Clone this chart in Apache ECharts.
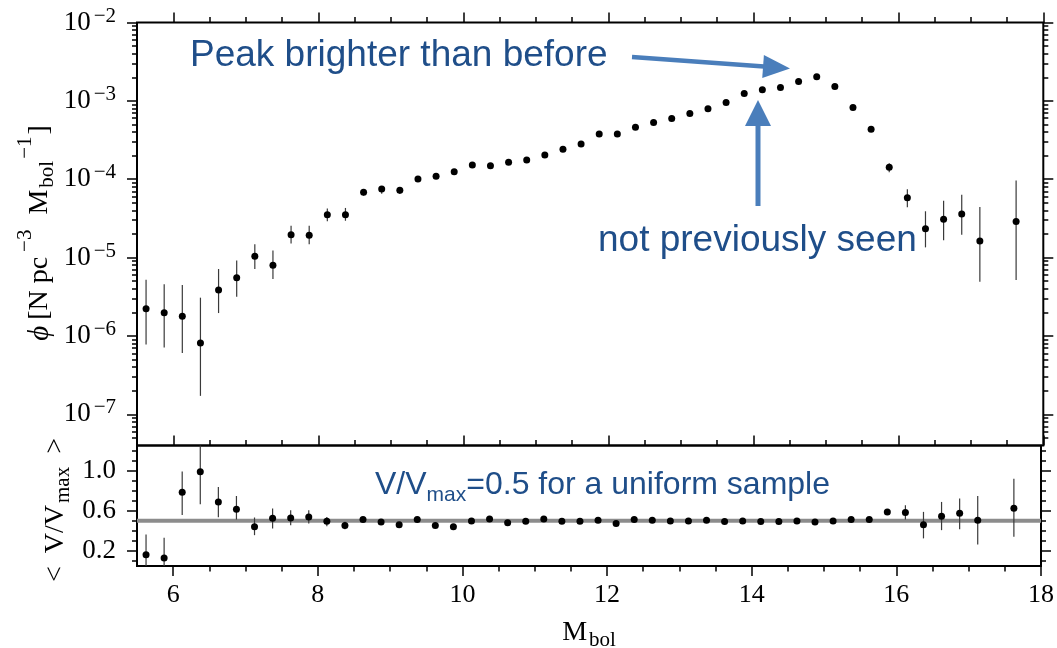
<!DOCTYPE html>
<html><head><meta charset="utf-8">
<script src="https://cdn.jsdelivr.net/npm/echarts@6/dist/echarts.min.js"></script>
<style>html,body{margin:0;padding:0;background:#fff}#c{width:1057px;height:648px}</style>
</head><body><div id="c"></div>
<script>
// ---- data ----
const mbol = [5.625, 5.875, 6.125, 6.375, 6.625, 6.875, 7.125, 7.375, 7.625, 7.875, 8.125, 8.375, 8.625, 8.875, 9.125, 9.375, 9.625, 9.875, 10.125, 10.375, 10.625, 10.875, 11.125, 11.375, 11.625, 11.875, 12.125, 12.375, 12.625, 12.875, 13.125, 13.375, 13.625, 13.875, 14.125, 14.375, 14.625, 14.875, 15.125, 15.375, 15.625, 15.875, 16.125, 16.375, 16.625, 16.875, 17.125, 17.625];
const phi = [2.22e-6, 1.98e-6, 1.79e-6, 8.1e-7, 3.86e-6, 5.54e-6, 1.04e-5, 8.0e-6, 1.96e-5, 1.93e-5, 3.53e-5, 3.53e-5, 6.82e-5, 7.52e-5, 7.23e-5, 1.01e-4, 1.09e-4, 1.25e-4, 1.52e-4, 1.49e-4, 1.65e-4, 1.76e-4, 2.04e-4, 2.41e-4, 2.82e-4, 3.79e-4, 3.79e-4, 4.61e-4, 5.28e-4, 5.94e-4, 6.89e-4, 7.91e-4, 9.52e-4, 1.24e-3, 1.39e-3, 1.48e-3, 1.77e-3, 2.03e-3, 1.52e-3, 8.2e-4, 4.35e-4, 1.42e-4, 5.82e-5, 2.34e-5, 3.08e-5, 3.6e-5, 1.63e-5, 2.88e-5];
const phiLow = [7.8e-7, 7.1e-7, 6.05e-7, 1.72e-7, 1.96e-6, 3.17e-6, 7.15e-6, 5.33e-6, 1.51e-5, 1.48e-5, 2.91e-5, 2.95e-5, 6.18e-5, 6.55e-5, 6.49e-5, 9.3e-5, 1.02e-4, 1.18e-4, 1.45e-4, 1.42e-4, 1.58e-4, 1.69e-4, 1.96e-4, 2.33e-4, 2.73e-4, 3.68e-4, 3.68e-4, 4.49e-4, 5.15e-4, 5.8e-4, 6.74e-4, 7.74e-4, 9.33e-4, 1.22e-3, 1.36e-3, 1.45e-3, 1.74e-3, 1.99e-3, 1.49e-3, 8.0e-4, 4.2e-4, 1.23e-4, 4.39e-5, 1.35e-5, 1.66e-5, 1.95e-5, 4.92e-6, 5.18e-6];
const phiHigh = [5.2e-6, 4.56e-6, 4.47e-6, 3.08e-6, 7.15e-6, 9.2e-6, 1.48e-5, 1.23e-5, 2.54e-5, 2.54e-5, 4.22e-5, 4.3e-5, 7.45e-5, 8.2e-5, 7.97e-5, 1.09e-4, 1.16e-4, 1.32e-4, 1.59e-4, 1.56e-4, 1.72e-4, 1.83e-4, 2.12e-4, 2.49e-4, 2.91e-4, 3.9e-4, 3.9e-4, 4.73e-4, 5.41e-4, 6.08e-4, 7.04e-4, 8.08e-4, 9.71e-4, 1.26e-3, 1.42e-3, 1.51e-3, 1.8e-3, 2.07e-3, 1.55e-3, 8.4e-4, 4.5e-4, 1.6e-4, 7.45e-5, 3.9e-5, 5.33e-5, 6.35e-5, 4.42e-5, 9.6e-5];
const vvmax = [0.162, 0.129, 0.784, 0.989, 0.688, 0.615, 0.44, 0.526, 0.529, 0.539, 0.496, 0.454, 0.513, 0.487, 0.46, 0.513, 0.454, 0.44, 0.499, 0.519, 0.48, 0.496, 0.519, 0.496, 0.496, 0.506, 0.474, 0.513, 0.506, 0.499, 0.499, 0.506, 0.493, 0.499, 0.493, 0.493, 0.499, 0.487, 0.499, 0.513, 0.513, 0.589, 0.582, 0.46, 0.546, 0.576, 0.506, 0.625];
const vvLow = [0.0, 0.0, 0.559, 0.665, 0.536, 0.513, 0.357, 0.424, 0.457, 0.474, 0.447, 0.417, 0.493, 0.467, 0.44, 0.493, 0.434, 0.42, 0.479, 0.499, 0.46, 0.476, 0.499, 0.476, 0.476, 0.486, 0.454, 0.493, 0.486, 0.479, 0.479, 0.486, 0.473, 0.479, 0.473, 0.473, 0.479, 0.467, 0.479, 0.493, 0.493, 0.563, 0.513, 0.325, 0.407, 0.417, 0.265, 0.341];
const vvHigh = [0.364, 0.331, 0.992, 1.35, 0.837, 0.747, 0.533, 0.622, 0.605, 0.605, 0.539, 0.49, 0.533, 0.507, 0.48, 0.533, 0.474, 0.46, 0.519, 0.539, 0.5, 0.516, 0.539, 0.516, 0.516, 0.526, 0.494, 0.533, 0.526, 0.519, 0.519, 0.526, 0.513, 0.519, 0.513, 0.513, 0.519, 0.507, 0.519, 0.533, 0.533, 0.615, 0.655, 0.589, 0.688, 0.722, 0.747, 0.92];
const uniformLevel = [0.5];

// ---- axis ticks ----
const xMajor = [6, 8, 10, 12, 14, 16, 18];
const xMinor = [6.5, 7, 7.5, 8.5, 9, 9.5, 10.5, 11, 11.5, 12.5, 13, 13.5, 14.5, 15, 15.5, 16.5, 17, 17.5];
const phiMajor = [1e-7, 1e-6, 1e-5, 1e-4, 1e-3, 1e-2];
const phiMinor = [5e-8, 6e-8, 7e-8, 8e-8, 9e-8,
  2e-7, 3e-7, 4e-7, 5e-7, 6e-7, 7e-7, 8e-7, 9e-7,
  2e-6, 3e-6, 4e-6, 5e-6, 6e-6, 7e-6, 8e-6, 9e-6,
  2e-5, 3e-5, 4e-5, 5e-5, 6e-5, 7e-5, 8e-5, 9e-5,
  2e-4, 3e-4, 4e-4, 5e-4, 6e-4, 7e-4, 8e-4, 9e-4,
  2e-3, 3e-3, 4e-3, 5e-3, 6e-3, 7e-3, 8e-3, 9e-3];
const vvMajor = [0.2, 0.6, 1.0];
const vvMinor = [0.1, 0.3, 0.4, 0.5, 0.7, 0.8, 0.9, 1.1, 1.2];

const X_MIN = 5.5, X_MAX = 18;
const PHI_MIN = 4e-8, PHI_MAX = 1e-2;
const VV_MIN = 0.05, VV_MAX = 1.25;

const SERIF = '"Liberation Serif", "DejaVu Serif", serif';
const SANS = '"Liberation Sans", Arial, sans-serif';
const TXT = '#1f4e89';
const ARROW = '#4a7ebb';

const chart = echarts.init(document.getElementById('c'), null, {renderer: 'canvas'});

function tickStyle() { return {color: '#000', width: 1.5}; }

function xAx(grid, pos, vals, len, inside, labels) {
  const a = {
    type: 'value', gridIndex: grid, position: pos, min: X_MIN, max: X_MAX,
    axisLine: {show: false, onZero: false}, splitLine: {show: false},
    axisTick: {show: true, customValues: vals, length: len, inside: inside, lineStyle: tickStyle()},
    axisLabel: {show: false}
  };
  if (labels) {
    a.axisLabel = {show: true, customValues: vals, margin: 16, fontFamily: SERIF, fontSize: 26, color: '#000',
      formatter: v => String(Math.round(v))};
  }
  return a;
}

function yAxLog(pos, vals, len, labels) {
  const a = {
    type: 'log', logBase: 10, gridIndex: 0, position: pos, min: PHI_MIN, max: PHI_MAX,
    axisLine: {show: false, onZero: false}, splitLine: {show: false}, minorTick: {show: false},
    axisTick: {show: true, customValues: vals, length: len, inside: false, lineStyle: tickStyle()},
    axisLabel: {show: false}
  };
  if (labels) {
    a.axisLabel = {
      show: true, customValues: vals, margin: 21,
      formatter: v => '{b|10}{s|\u2212' + (-Math.round(Math.log10(v))) + '}',
      rich: {
        b: {fontFamily: SERIF, fontSize: 27, color: '#000'},
        s: {fontFamily: SERIF, fontSize: 21, color: '#000', padding: [0, 0, 13, 3]}
      }
    };
  }
  return a;
}

function yAxLin(pos, vals, len, labels) {
  const a = {
    type: 'value', gridIndex: 1, position: pos, min: VV_MIN, max: VV_MAX,
    axisLine: {show: false, onZero: false}, splitLine: {show: false},
    axisTick: {show: true, customValues: vals, length: len, inside: false, lineStyle: tickStyle()},
    axisLabel: {show: false}
  };
  if (labels) {
    a.axisLabel = {show: true, customValues: vals, margin: 21, fontFamily: SERIF, fontSize: 27, color: '#000',
      formatter: v => v.toFixed(1)};
  }
  return a;
}

function errRender(params, api) {
  const x = api.value(0);
  const p1 = api.coord([x, api.value(1)]);
  const p2 = api.coord([x, api.value(2)]);
  const cs = params.coordSys;
  const top = cs.y, bot = cs.y + cs.height;
  const c = v => Math.min(Math.max(v, top), bot);
  return {type: 'line', shape: {x1: p1[0], y1: c(p1[1]), x2: p2[0], y2: c(p2[1])},
    style: {stroke: '#3a3a3a', lineWidth: 1.2}};
}

function arrow(x0, y0, x1, y1, headLen, halfW, width) {
  const dx = x1 - x0, dy = y1 - y0, L = Math.hypot(dx, dy);
  const ux = dx / L, uy = dy / L, nx = -uy, ny = ux;
  const bx = x1 - ux * headLen, by = y1 - uy * headLen;
  return [
    {type: 'line', shape: {x1: x0, y1: y0, x2: bx + ux, y2: by + uy}, style: {stroke: ARROW, lineWidth: width}},
    {type: 'polygon', shape: {points: [[x1, y1], [bx + nx * halfW, by + ny * halfW], [bx - nx * halfW, by - ny * halfW]]},
      style: {fill: ARROW}}
  ];
}

const nameRich = {
  m: {fontFamily: SERIF, fontSize: 28, fill: '#000'},
  i: {fontFamily: SERIF, fontSize: 29, fontStyle: 'italic', fill: '#000', padding: [0, 6, 0, 0]},
  sup: {fontFamily: SERIF, fontSize: 21, fill: '#000', padding: [0, 2, 30, 5]},
  sup2: {fontFamily: SERIF, fontSize: 21, fill: '#000', padding: [0, 2, 30, 2]},
  sub: {fontFamily: SERIF, fontSize: 21, fill: '#000', padding: [14, 0, 0, 2]},
  g: {fontFamily: SERIF, fontSize: 28, fill: '#000', padding: [0, 3, 0, 3]}
};

const option = {
  animation: false,
  backgroundColor: '#fff',
  grid: [
    {left: 137, top: 22.5, width: 906.3, height: 423, show: true, borderColor: '#000', borderWidth: 2, backgroundColor: 'transparent'},
    {left: 137, top: 445.5, width: 906.3, height: 120.5, show: true, borderColor: '#000', borderWidth: 2, backgroundColor: 'transparent'}
  ],
  xAxis: [
    xAx(0, 'bottom', xMajor, 10, true, false),
    xAx(0, 'bottom', xMinor, 5.5, true, false),
    xAx(0, 'top', xMajor, 10, false, false),
    xAx(0, 'top', xMinor, 5.5, false, false),
    xAx(1, 'bottom', xMajor, 10, false, true),
    xAx(1, 'bottom', xMinor, 5.5, false, false)
  ],
  yAxis: [
    yAxLog('left', phiMajor, 10, true),
    yAxLog('left', phiMinor, 5, false),
    yAxLog('right', phiMajor, 10, false),
    yAxLog('right', phiMinor, 5, false),
    yAxLin('left', vvMajor, 10, true),
    yAxLin('left', vvMinor, 5, false),
    yAxLin('right', vvMajor, 10, false),
    yAxLin('right', vvMinor, 5, false)
  ],
  series: [
    {type: 'line', xAxisIndex: 4, yAxisIndex: 4, data: [[X_MIN, uniformLevel[0]], [X_MAX, uniformLevel[0]]],
      symbol: 'none', lineStyle: {color: '#8c8c8c', width: 4}, z: 1, silent: true},
    {type: 'custom', xAxisIndex: 0, yAxisIndex: 0, renderItem: errRender, encode: {x: 0, y: [1, 2]}, z: 2,
      data: mbol.map((x, i) => [x, phiLow[i], phiHigh[i]])},
    {type: 'scatter', xAxisIndex: 0, yAxisIndex: 0, symbolSize: 7, itemStyle: {color: '#000', opacity: 1}, z: 3,
      data: mbol.map((x, i) => [x, phi[i]])},
    {type: 'custom', xAxisIndex: 4, yAxisIndex: 4, renderItem: errRender, encode: {x: 0, y: [1, 2]}, z: 2,
      data: mbol.map((x, i) => [x, vvLow[i], vvHigh[i]])},
    {type: 'scatter', xAxisIndex: 4, yAxisIndex: 4, symbolSize: 7, itemStyle: {color: '#000', opacity: 1}, z: 3,
      data: mbol.map((x, i) => [x, vvmax[i]])}
  ],
  graphic: [
    {type: 'text', x: 190, y: 56, z: 10, style: {text: 'Peak brighter than before', font: '37px ' + SANS, fill: TXT, align: 'left', verticalAlign: 'middle'}},
    {type: 'text', x: 598, y: 241, z: 10, style: {text: 'not previously seen', font: '37px ' + SANS, fill: TXT, align: 'left', verticalAlign: 'middle'}},
    {type: 'text', x: 375, y: 485.5, z: 10, style: {
      text: '{m|V/V}{s|max}{m|=0.5 for a uniform sample}', align: 'left', verticalAlign: 'middle',
      rich: {m: {fontFamily: SANS, fontSize: 32, fill: TXT}, s: {fontFamily: SANS, fontSize: 21, fill: TXT, padding: [20, 0, 0, 0]}}}},
    ...arrow(632, 57, 790, 68.5, 27, 11.5, 4.5),
    ...arrow(758, 206, 758, 100, 26, 13, 5),
    {type: 'text', x: 40, y: 233, rotation: Math.PI / 2, style: {
      text: '{i|\u03d5}{m|[N pc}{sup|\u22123}{g| }{m|M}{sub|bol}{sup2|\u22121}{m|]}', align: 'center', verticalAlign: 'middle', rich: nameRich}},
    {type: 'text', x: 56, y: 510, rotation: Math.PI / 2, style: {
      text: '{m|<}{g| }{m|V/V}{sub|max}{g| }{m|>}', align: 'center', verticalAlign: 'middle', rich: nameRich}},
    {type: 'text', x: 589, y: 633, style: {
      text: '{m|M}{sub|bol}', align: 'center', verticalAlign: 'middle', rich: nameRich}}
  ]
};
chart.setOption(option);
</script>
</body></html>
